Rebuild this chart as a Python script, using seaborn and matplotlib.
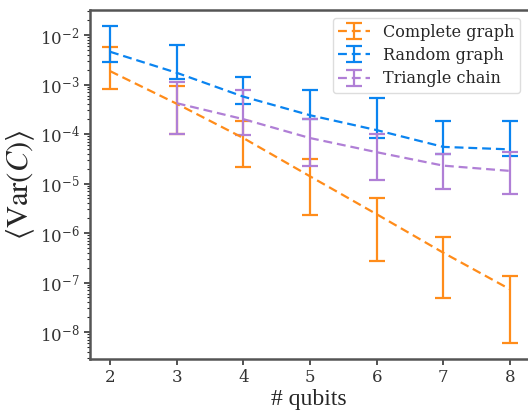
import numpy as np
import pandas as pd
import matplotlib
matplotlib.use("Agg")
import matplotlib.pyplot as plt
import seaborn as sns

qubits = [2, 3, 4, 5, 6, 7, 8]
complete_mean = [1.87e-3, 4.1e-4, 8.3e-5, 1.4e-5, 2.4e-6, 4.0e-7, 7.3e-8]
complete_lo = [8.0e-4, 1.0e-4, 2.2e-5, 2.3e-6, 2.7e-7, 4.9e-8, 6.0e-9]
complete_hi = [5.8e-3, 9.5e-4, 1.8e-4, 3.1e-5, 5.0e-6, 8.5e-7, 1.35e-7]

random_mean = [4.6e-3, 1.73e-3, 5.7e-4, 2.4e-4, 1.2e-4, 5.5e-5, 4.9e-5]
random_lo = [2.9e-3, 1.27e-3, 4.0e-4, 2.0e-4, 8.5e-5, 3.9e-5, 3.6e-5]
random_hi = [1.55e-2, 6.3e-3, 1.44e-3, 7.8e-4, 5.3e-4, 1.86e-4, 1.86e-4]

triangle_qubits = [3, 4, 5, 6, 7, 8]
triangle_mean = [4.2e-4, 2.0e-4, 8.3e-5, 4.3e-5, 2.3e-5, 1.8e-5]
triangle_lo = [1.02e-4, 9.5e-5, 2.3e-5, 1.17e-5, 7.9e-6, 6.2e-6]
triangle_hi = [1.14e-3, 7.9e-4, 2.0e-4, 1.0e-4, 4.0e-5, 4.3e-5]

sns.set_style("ticks")
plt.rcParams['font.family'] = ['DejaVu Serif']
plt.rcParams['mathtext.fontset'] = 'dejavuserif'

series = [
    ("Complete graph", qubits, complete_mean, complete_lo, complete_hi, "#ff8c1a"),
    ("Random graph", qubits, random_mean, random_lo, random_hi, "#0a84f0"),
    ("Triangle chain", triangle_qubits, triangle_mean, triangle_lo, triangle_hi, "#b07fd6"),
]

fig = plt.figure(figsize=(5.28, 4.12), dpi=100)
ax = fig.add_axes([0.1705, 0.1286, 0.8295, 0.847])

for name, x, m, lo, hi, c in series:
    df = pd.DataFrame({'x': x, 'm': m, 'lo': lo, 'hi': hi})
    yerr = np.vstack([df['m'] - df['lo'], df['hi'] - df['m']])
    ax.errorbar(df['x'], df['m'], yerr=yerr, fmt='--', color=c, lw=1.6,
                elinewidth=1.6, capsize=6, capthick=1.6, label=name,
                dashes=(4, 2.2))

ax.set_yscale('log')
ax.set_xlim(1.7, 8.27)
ax.set_ylim(2.85e-9, 3.2e-2)
ax.set_xticks(qubits)
ax.tick_params(axis='both', labelsize=12, colors='#333333', width=1.2)
ax.tick_params(axis='both', which='major', length=4)
ax.tick_params(axis='y', which='minor', length=2.5, width=0.8)
for side in ['left', 'bottom', 'top']:
    ax.spines[side].set_color('#555555')
    ax.spines[side].set_linewidth(1.8)
ax.spines['right'].set_visible(False)

ax.set_xlabel('# qubits', fontsize=17, family='Liberation Serif', labelpad=2)
ax.set_ylabel(r'$\langle \mathrm{Var}(C) \rangle$', fontsize=22,
              math_fontfamily='stix', labelpad=2)
ax.legend(loc='upper right', fontsize=11.5, handlelength=2.0,
          borderpad=0.35, labelspacing=0.4, framealpha=1, edgecolor='#dddddd')

fig.savefig('out.png', dpi=100)
